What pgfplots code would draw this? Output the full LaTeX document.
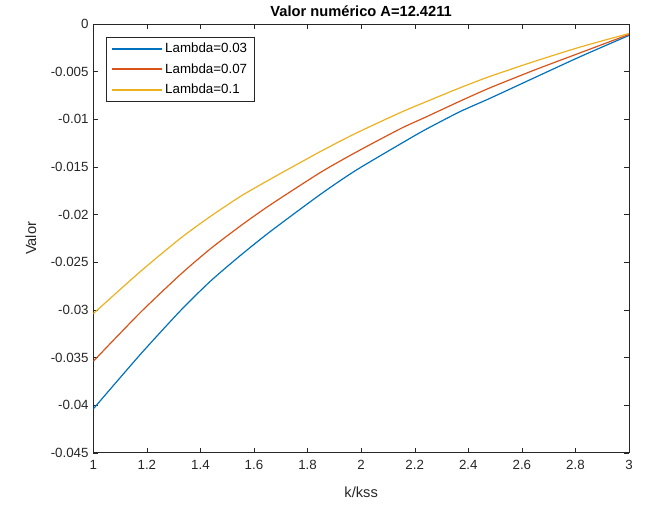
\documentclass[border=0pt]{standalone}
\usepackage{fontspec}
\setmainfont{Liberation Sans}
\usepackage{pgfplots}
\pgfplotsset{compat=1.18}

\definecolor{mblue}{rgb}{0,0.447,0.741}
\definecolor{morange}{rgb}{0.85,0.325,0.098}
\definecolor{myellow}{rgb}{0.929,0.694,0.125}
\definecolor{axgray}{rgb}{0.15,0.15,0.15}

\pgfplotscreateplotcyclelist{matlab}{
  {mblue, line width=0.9pt},
  {morange, line width=0.9pt},
  {myellow, line width=0.9pt}}

\begin{document}
\begin{tikzpicture}
\begin{axis}[
  name=ax,
  scale only axis,
  width=402pt, height=321.75pt,
  xmin=1, xmax=3, ymin=-0.045, ymax=0,
  scaled y ticks=false,
  cycle list name=matlab,
  axis line style={axgray},
  tick style={axgray},
  tick align=inside,
  major tick length=3.75pt,
  xtick={1,1.2,1.4,1.6,1.8,2,2.2,2.4,2.6,2.8,3},
  xticklabels={1,1.2,1.4,1.6,1.8,2,2.2,2.4,2.6,2.8,3},
  ytick={-0.045,-0.04,-0.035,-0.03,-0.025,-0.02,-0.015,-0.01,-0.005,0},
  yticklabels={-0.045,-0.04,-0.035,-0.03,-0.025,-0.02,-0.015,-0.01,-0.005,0},
  ticklabel style={font=\fontsize{10}{12}\selectfont, text=axgray},
  xticklabel style={yshift=-2pt},
  xlabel={k/kss},
  ylabel={Valor},
  xlabel style={font=\fontsize{11}{13}\selectfont, text=axgray, yshift=-6pt},
  ylabel style={font=\fontsize{11}{13}\selectfont, text=axgray, yshift=4pt},
  title={Valor numérico A=12.4211},
  title style={font=\bfseries\fontsize{11}{13}\selectfont, yshift=-4pt},
  legend cell align=left,
  legend style={at={(0.0243,0.970)}, anchor=north west,
    font=\fontsize{10}{12}\selectfont, draw=axgray,
    inner xsep=3.5pt, inner ysep=2.5pt, row sep=2.5pt},
  legend image code/.code={%
    \draw[#1, line width=1.5pt] (0pt,0pt) -- (37pt,0pt);},
]
\addplot+[smooth, tension=0.4, no marks] coordinates {
  (1.000,-0.0404) (1.175,-0.0347) (1.325,-0.0301) (1.437,-0.0270)
  (1.549,-0.0243) (1.660,-0.0218) (1.847,-0.0179)
  (1.978,-0.0154) (2.146,-0.0126) (2.239,-0.0111) (2.369,-0.0092)
  (2.481,-0.0078) (2.650,-0.0056) (2.820,-0.0034) (3.000,-0.0012)
};
\addlegendentry{Lambda=0.03\hspace{15pt}}
\addplot+[smooth, tension=0.4, no marks] coordinates {
  (1.000,-0.0354) (1.175,-0.0303) (1.325,-0.0263) (1.437,-0.0236)
  (1.549,-0.0212) (1.660,-0.0190) (1.847,-0.0156)
  (1.978,-0.0135) (2.146,-0.0110) (2.239,-0.0098) (2.369,-0.0081)
  (2.481,-0.0067) (2.650,-0.0048) (2.820,-0.0030) (3.000,-0.0011)
};
\addlegendentry{Lambda=0.07\hspace{15pt}}
\addplot+[smooth, tension=0.4, no marks] coordinates {
  (1.000,-0.0304) (1.175,-0.0260) (1.325,-0.0225) (1.437,-0.0202)
  (1.549,-0.0181) (1.660,-0.0163) (1.847,-0.0134)
  (1.978,-0.0115) (2.146,-0.0093) (2.239,-0.0082) (2.369,-0.0067)
  (2.481,-0.0055) (2.650,-0.0039) (2.820,-0.0024) (3.000,-0.0010)
};
\addlegendentry{Lambda=0.1}
\end{axis}
\pgfresetboundingbox
\path ([shift={(-70pt,-40pt)}]ax.south west) rectangle ([shift={(13.5pt,18pt)}]ax.north east);
\end{tikzpicture}
\end{document}
